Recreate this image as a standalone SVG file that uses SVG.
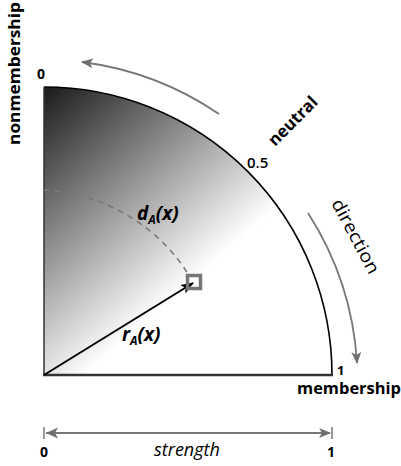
<svg xmlns="http://www.w3.org/2000/svg" width="401" height="466" viewBox="0 0 401 466">
<defs>
<linearGradient id="shade" gradientUnits="userSpaceOnUse" x1="44" y1="87" x2="205" y2="270">
<stop offset="0" stop-color="#1a1a1a"/>
<stop offset="1" stop-color="#ffffff"/>
</linearGradient>
<marker id="grayhead" markerWidth="12" markerHeight="10" refX="11" refY="5" orient="auto" markerUnits="userSpaceOnUse">
<path d="M0,0 L12,5 L0,10 L3,5 Z" fill="#707070"/>
</marker>
<marker id="blackhead" markerWidth="13" markerHeight="10" refX="12" refY="5" orient="auto" markerUnits="userSpaceOnUse">
<path d="M0,0 L13,5 L0,10 L3,5 Z" fill="#000"/>
</marker>
<style>
.lab{font-family:"Open Sans","Liberation Sans",sans-serif;fill:#000}
.b{font-weight:bold}
.it{font-style:italic}
.garrow{fill:none;stroke:#777;stroke-width:1.8}
</style>
</defs>

<g id="quadrant">
<path d="M44,375 L44,87 A288,288 0 0,1 332,375 Z" fill="url(#shade)"/>
<path d="M44,87 A288,288 0 0,1 332,375" fill="none" stroke="#000" stroke-width="1.6"/>
<line x1="44" y1="87" x2="44" y2="376" stroke="#333" stroke-width="1.5"/>
<line x1="43" y1="375" x2="333" y2="375" stroke="#333" stroke-width="2.5"/>
</g>

<g id="connectors">
<path d="M44,190 C105,193 160,228 188,274" fill="none" stroke="#777" stroke-width="1.5" stroke-dasharray="6,5"/>
<line x1="44" y1="375" x2="193" y2="283" stroke="#000" stroke-width="2" marker-end="url(#blackhead)"/>
<path class="garrow" d="M219,114 A315,315 0 0,0 82,62" marker-end="url(#grayhead)"/>
<path class="garrow" d="M308,213 A312,312 0 0,1 357,363" marker-end="url(#grayhead)"/>
<line class="garrow" x1="46" y1="433" x2="330" y2="433" marker-end="url(#grayhead)"/>
<path d="M58,427.5 L46,433 L58,438.5 L55,433 Z" fill="#707070"/>
<line x1="44" y1="427" x2="44" y2="439" stroke="#777" stroke-width="1.5"/>
<line x1="332" y1="427" x2="332" y2="439" stroke="#777" stroke-width="1.5"/>
</g>

<g id="point">
<rect x="187.5" y="275.5" width="13" height="13" fill="none" stroke="#777" stroke-width="3.5"/>
</g>

<g id="labels">
<text class="lab b" transform="translate(20,145) rotate(-90)" font-size="16" textLength="143" lengthAdjust="spacingAndGlyphs">nonmembership</text>
<text class="lab b" x="37" y="79" font-size="14">0</text>
<text class="lab" x="247" y="168" font-size="15" font-weight="600">0.5</text>
<text class="lab b" transform="translate(275,147) rotate(-45)" font-size="17" textLength="62" lengthAdjust="spacingAndGlyphs">neutral</text>
<text class="lab" transform="translate(331,203) rotate(62)" font-size="18" textLength="82" lengthAdjust="spacingAndGlyphs">direction</text>
<text class="lab b it" x="137" y="220" font-size="19">d<tspan font-size="12" dy="4">A</tspan><tspan dy="-4">(x)</tspan></text>
<text class="lab b it" x="122" y="341" font-size="19">r<tspan font-size="12" dy="4">A</tspan><tspan dy="-4">(x)</tspan></text>
<text class="lab b" x="337" y="375" font-size="13">1</text>
<text class="lab b" x="297" y="394" font-size="16" textLength="104" lengthAdjust="spacingAndGlyphs">membership</text>
<text class="lab b" x="40" y="457" font-size="14">0</text>
<text class="lab it" x="187" y="456" font-size="18" text-anchor="middle">strength</text>
<text class="lab b" x="327" y="457" font-size="14">1</text>
</g>
</svg>
